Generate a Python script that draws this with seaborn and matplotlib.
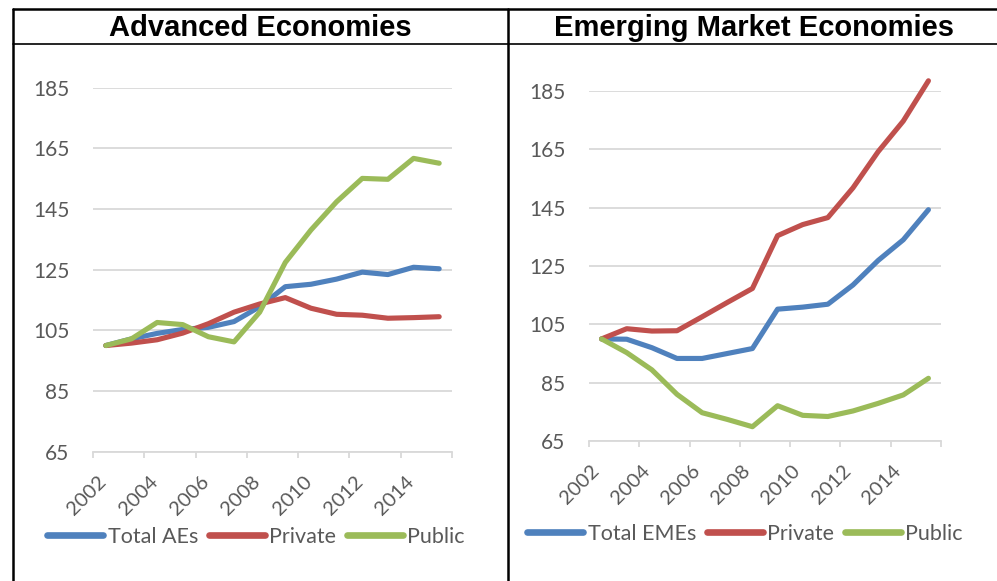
import numpy as np
import pandas as pd
import matplotlib
matplotlib.use("Agg")
import matplotlib.pyplot as plt
from matplotlib.lines import Line2D
from matplotlib.transforms import ScaledTranslation
import seaborn as sns

years = list(range(2002, 2016))

ae_total = [100, 102.2, 104.0, 105.3, 106.0, 107.9, 112.8, 119.4, 120.2, 121.9, 124.2, 123.4, 125.8, 125.3]
ae_private = [100, 100.8, 101.9, 104.1, 107.2, 111.0, 113.7, 115.8, 112.3, 110.3, 110.0, 109.0, 109.2, 109.5]
ae_public = [100, 102.2, 107.6, 106.9, 102.9, 101.2, 111.0, 127.4, 138.1, 147.4, 155.1, 154.8, 161.7, 160.1]

eme_total = [100, 99.9, 97.0, 93.3, 93.3, 95.0, 96.7, 110.2, 110.9, 111.9, 118.5, 126.9, 134.0, 144.3]
eme_private = [100, 103.5, 102.7, 102.8, 107.6, 112.5, 117.3, 135.4, 139.2, 141.6, 151.8, 164.2, 174.7, 188.5]
eme_public = [100, 95.3, 89.4, 81.0, 74.7, 72.4, 69.9, 77.1, 73.8, 73.4, 75.3, 77.9, 80.8, 86.5]

titles = ["Advanced Economies", "Emerging Market Economies"]
ae_labels = ["Total AEs", "Private", "Public"]
eme_labels = ["Total EMEs", "Private", "Public"]
y_ticks = [65, 85, 105, 125, 145, 165, 185]
x_label_years = [2002, 2004, 2006, 2008, 2010, 2012, 2014]

colors = ["#4F81BD", "#C0504D", "#9BBB59"]
grid_c = "#D9D9D9"
text_c = "#595959"

sns.set_theme(style="white")
plt.rcParams["font.family"] = ["Lato", "DejaVu Sans"]

W, H = 997, 581
fig = plt.figure(figsize=(W / 100, H / 100), dpi=100)

def make_df(labels, series):
    rows = []
    for lab, vals in zip(labels, series):
        for y, v in zip(years, vals):
            rows.append({"year": y, "value": v, "series": lab})
    return pd.DataFrame(rows)

panels = [
    (ae_labels, [ae_total, ae_private, ae_public], [93, 87.7, 452, 451.7], 256),
    (eme_labels, [eme_total, eme_private, eme_public], [589, 91, 941, 441], 745),
]
legend_y = [537, 534]
label_shift = [4, 1]

for i, (labels, series, (x0, y0, x1, y1), lcx) in enumerate(panels):
    ax = fig.add_axes([x0 / W, 1 - y1 / H, (x1 - x0) / W, (y1 - y0) / H])
    df = make_df(labels, series)
    sns.lineplot(data=df, x="year", y="value", hue="series", hue_order=labels,
                 palette=colors, linewidth=3.7, ax=ax, legend=False)
    for ln in ax.get_lines():
        ln.set_solid_capstyle("round")
        ln.set_solid_joinstyle("round")
        ln.set_clip_on(False)
    ax.set_xlim(2001.5, 2015.5)
    ax.set_ylim(65, 185)
    ax.set_yticks(y_ticks)
    ax.set_yticklabels([str(t) for t in y_ticks])
    ax.yaxis.grid(True, color=grid_c, linewidth=1.3)
    ax.set_axisbelow(True)
    ax.set_xticks(np.arange(2001.5, 2016, 2))
    ax.set_xticklabels([])
    ax.set_xticks(x_label_years, minor=True)
    ax.set_xticklabels([str(y) for y in x_label_years], minor=True, rotation=45,
                       ha="right", fontsize=14.5, color=text_c)
    ax.tick_params(axis="x", which="major", length=4.5, width=1.3, color=grid_c,
                   direction="out", bottom=True)
    ax.tick_params(axis="x", which="minor", length=0, pad=15)
    ax.tick_params(axis="y", length=0, pad=17, labelsize=15, labelcolor=text_c)
    off = ScaledTranslation(label_shift[i] / 100, 0, fig.dpi_scale_trans)
    for lab in ax.get_xticklabels(minor=True):
        lab.set_transform(lab.get_transform() + off)
    for s in ["top", "right", "left"]:
        ax.spines[s].set_visible(False)
    ax.spines["bottom"].set_color(grid_c)
    ax.spines["bottom"].set_linewidth(1.3)
    ax.set_xlabel("")
    ax.set_ylabel("")

    handles = [Line2D([0], [0], color=c, linewidth=4.8, solid_capstyle="round") for c in colors]
    fig.legend(handles, labels, loc="center", bbox_to_anchor=(lcx / W, 1 - legend_y[i] / H),
               ncol=3, frameon=False, fontsize=15.5, handlelength=2.6, handletextpad=0.2,
               columnspacing=0.5, labelcolor=text_c, borderaxespad=0, borderpad=0)

# table frame
lw = 1.8
fig.add_artist(Line2D([13 / W, 1], [1 - 9 / H, 1 - 9 / H], color="black", lw=lw, transform=fig.transFigure))
fig.add_artist(Line2D([13 / W, 1], [1 - 44 / H, 1 - 44 / H], color="black", lw=1.2, transform=fig.transFigure))
fig.add_artist(Line2D([13 / W, 13 / W], [0, 1 - 9 / H], color="black", lw=lw, transform=fig.transFigure))
fig.add_artist(Line2D([508 / W, 508 / W], [0, 1 - 9 / H], color="black", lw=lw, transform=fig.transFigure))

fig.text(260 / W, 1 - 28 / H, titles[0], ha="center", va="center", fontsize=21,
         fontweight="bold", family=["Liberation Sans", "DejaVu Sans"], color="black")
fig.text(754 / W, 1 - 28 / H, titles[1], ha="center", va="center", fontsize=21,
         fontweight="bold", family=["Liberation Sans", "DejaVu Sans"], color="black")

fig.savefig("out.png", dpi=100, facecolor="white")
